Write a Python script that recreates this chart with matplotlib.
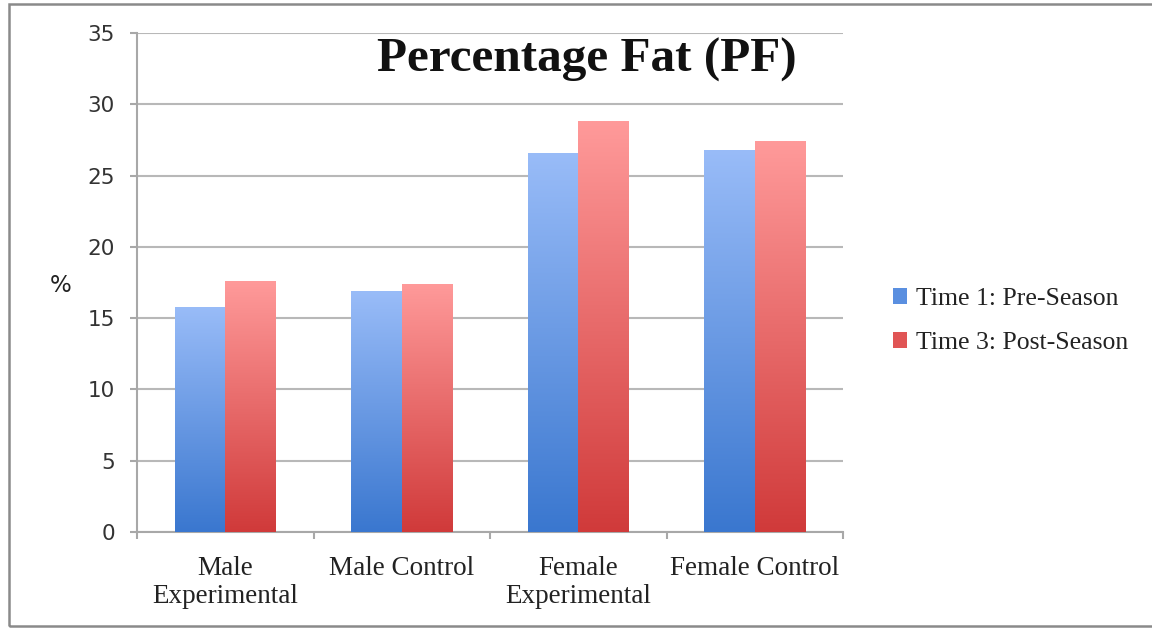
import numpy as np
import matplotlib
matplotlib.use("Agg")
import matplotlib.pyplot as plt
from matplotlib.colors import LinearSegmentedColormap
from matplotlib.patches import Patch, Rectangle

# chart data
categories = ["Male\nExperimental", "Male Control", "Female\nExperimental", "Female Control"]
pre_season = [15.8, 16.9, 26.6, 26.8]
post_season = [17.6, 17.4, 28.8, 27.4]
series_labels = ["Time 1: Pre-Season", "Time 3: Post-Season"]
y_ticks = [0, 5, 10, 15, 20, 25, 30, 35]

BLUE_CMAP = LinearSegmentedColormap.from_list("blue", ["#3a77cf", "#99bcf8"])
RED_CMAP = LinearSegmentedColormap.from_list("red", ["#d03a3a", "#ff9a9a"])

SERIF = "Liberation Serif"
SANS = "DejaVu Sans"

fig = plt.figure(figsize=(11.52, 6.28), dpi=100)
ax = fig.add_axes([137 / 1152, 1 - 532 / 628, 706 / 1152, 499 / 628])

x = np.arange(len(categories))
width = 1 / 3.5

bars_pre = ax.bar(x - width / 2, pre_season, width, color="none", zorder=3)
bars_post = ax.bar(x + width / 2, post_season, width, color="none", zorder=3)

# vertical gradient inside each bar: light at top, dark at bottom
grad = np.linspace(0, 1, 256).reshape(-1, 1)
for bars, cmap in [(bars_pre, BLUE_CMAP), (bars_post, RED_CMAP)]:
    for b in bars:
        bx, by = b.get_x(), b.get_y()
        bw, bh = b.get_width(), b.get_height()
        im = ax.imshow(grad, cmap=cmap, origin="lower", aspect="auto",
                       extent=[bx, bx + bw, by, by + bh], zorder=3,
                       interpolation="bilinear")
        im.set_clip_path(b)

ax.set_xlim(-0.5, len(categories) - 0.5)
ax.set_ylim(0, 35)

# gridlines and axes
ax.set_yticks(y_ticks)
ax.yaxis.grid(True, color="#b8b8b8", linewidth=1.5, zorder=0)
ax.set_axisbelow(True)
for side in ["top", "right"]:
    ax.spines[side].set_visible(False)
for side in ["left", "bottom"]:
    ax.spines[side].set_color("#a8a8a8")
    ax.spines[side].set_linewidth(1.5)

ax.tick_params(axis="y", length=5, width=1.5, color="#a8a8a8", pad=11,
               labelsize=15.5, labelcolor="#333333")
for lbl in ax.get_yticklabels():
    lbl.set_family(SANS)

ax.set_xticks(x)
ax.set_xticklabels(categories, family=SERIF, fontsize=19.5, color="#222222",
                   linespacing=1.2)
ax.tick_params(axis="x", which="major", length=0, pad=17)
ax.set_xticks(np.arange(-0.5, len(categories)), minor=True)
ax.tick_params(axis="x", which="minor", length=5, width=1.5, color="#a8a8a8")

fig.text(61 / 1152, 1 - 285 / 628, "%", family=SANS, fontsize=16.5,
         ha="center", va="center", color="#222222")

fig.text(587 / 1152, 1 - 72 / 628, "Percentage Fat (PF)", family=SERIF,
         fontsize=35.5, fontweight="bold", ha="center", va="baseline", color="#111111")

handles = [Patch(facecolor="#5a8fe0", edgecolor="none"),
           Patch(facecolor="#e05555", edgecolor="none")]
fig.legend(handles, series_labels, loc="upper left",
           bbox_to_anchor=(870 / 1152, 1 - 265 / 628), frameon=False,
           prop={"family": SERIF, "size": 18.5}, handlelength=0.55,
           handleheight=0.55, handletextpad=0.35, labelspacing=0.85,
           labelcolor="#222222")

# outer chart border
fig.patches.append(Rectangle((9 / 1152, 2 / 628), 1.2, 622 / 628,
                             transform=fig.transFigure, fill=False,
                             edgecolor="#8a8a8a", linewidth=1.8))

fig.savefig("out.png", dpi=100)
